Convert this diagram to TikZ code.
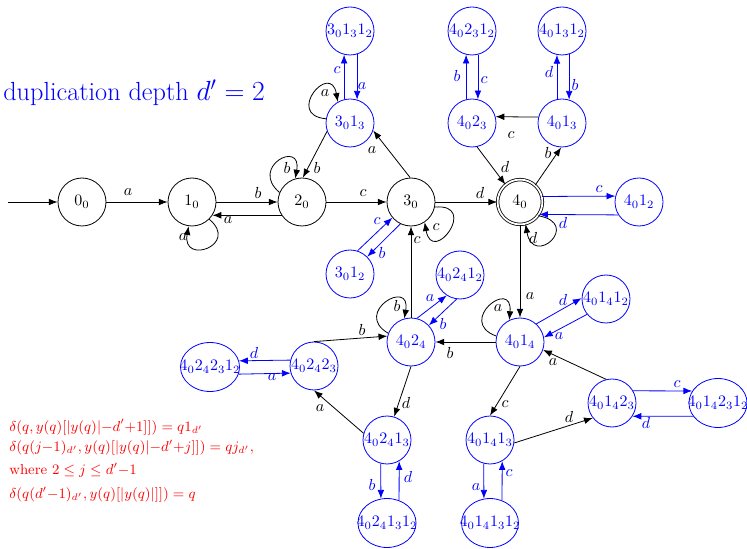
\documentclass[tikz,border=0pt]{standalone}
\usetikzlibrary{arrows.meta,shapes.geometric}
\begin{document}
\begin{tikzpicture}[x=0.625pt,y=-0.625pt,
  st/.style={circle,draw,minimum size=30pt,inner sep=0pt,line width=0.5pt},
  bst/.style={st,blue},
  bel/.style={ellipse,draw,blue,minimum height=30.6pt,inner sep=0pt,line width=0.5pt},
  acc/.style={circle,draw,double,double distance=1.1pt,minimum size=28pt,inner sep=0pt,line width=0.5pt},
  ar/.style={-{Latex[length=5.5pt,width=4.2pt]},line width=0.5pt},
  bar/.style={ar,blue},
  lb/.style={inner sep=0pt}]
\useasboundingbox (0,0) rectangle (747,549);
% black states
\node[st] (n00) at (82,202) {$0_0$};
\node[st] (n10) at (192,202) {$1_0$};
\node[st] (n20) at (302,202) {$2_0$};
\node[st] (n30) at (411,202) {$3_0$};
\node[acc] (n40) at (520,202) {$4_0$};
% blue states
\node[bst] (a312) at (350,31) {$3_01_31_2$};
\node[bst] (a31) at (350,123) {$3_01_3$};
\node[bst] (a3b) at (350,274) {$3_01_2$};
\node[bst] (b4231) at (472,31) {$4_02_31_2$};
\node[bst] (b423) at (472,123) {$4_02_3$};
\node[bst] (c4131) at (562,31) {$4_01_31_2$};
\node[bst] (c413) at (562,123) {$4_01_3$};
\node[bst] (d412) at (639,202) {$4_01_2$};
\node[bst] (e4241) at (460,275) {$4_02_41_2$};
\node[bst] (e424) at (411,342) {$4_02_4$};
\node[bst] (f414) at (520,342) {$4_01_4$};
\node[bst] (f4141) at (606,299) {$4_01_41_2$};
\node[bst] (g41423) at (612,403) {$4_01_42_3$};
\node[bel,minimum width=36.3pt] (g414231) at (718,403) {\makebox[10pt]{$4_01_42_31_2$}};
\node[bst] (h41413) at (490,440) {$4_01_41_3$};
\node[bel,minimum width=35.6pt] (h414131) at (490,523) {\makebox[10pt]{$4_01_41_31_2$}};
\node[bst] (i42413) at (387,440) {$4_02_41_3$};
\node[bel,minimum width=36.3pt] (i424131) at (387,523) {\makebox[10pt]{$4_02_41_31_2$}};
\node[bst] (j42423) at (314,366) {$4_02_42_3$};
\node[bel,minimum width=36.9pt] (j424231) at (210,367) {\makebox[10pt]{$4_02_42_31_2$}};
% texts
\node[blue,font=\fontsize{16.4}{19}\selectfont,anchor=base west,inner sep=0pt] (title) at (3,101) {duplication depth $d'=2$};
\node[red,font=\small,anchor=base west,inner sep=0pt] (r1) at (9,431) {$\delta(q,y(q)[|y(q)|{-}d'{+}1]])=q1_{d'}$};
\node[red,font=\small,anchor=base west,inner sep=0pt] (r2) at (9,451.5) {$\delta(q(j{-}1)_{d'},y(q)[|y(q)|{-}d'{+}j]])=qj_{d'}$,};
\node[red,font=\small,anchor=base west,inner sep=0pt] (r3) at (9,474.5) {where $2\leq j\leq d'{-}1$};
\node[red,font=\small,anchor=base west,inner sep=0pt] (r4) at (9,498.5) {$\delta(q(d'{-}1)_{d'},y(q)[|y(q)|]])=q$};
% black edges
\coordinate (init) at (8,202);
\draw[ar] (init) -- (n00);
\draw[ar] (n00) -- (n10) node[lb,at={(128,192)}] {$a$};
\draw[ar] (n10) -- (n20) node[lb,at={(258,193)}] {$b$};
\draw[ar] (n20.213) -- (n10.327) node[lb,at={(228,220)}] {$a$};
\draw[ar] (n10.-45) .. controls +(-40:25pt) and +(-100:25pt) .. (n10.-98) node[lb,at={(183,237)}] {$a$};
\draw[ar] (n20.157) .. controls +(140:25pt) and +(80:25pt) .. (n20.106) node[lb,at={(287,168)}] {$b$};
\draw[ar] (a31.200) -- (n20.88) node[lb,at={(317,168)}] {$b$};
\draw[ar] (a31.170) .. controls +(175:26pt) and +(100:26pt) .. (a31.120) node[lb,at={(325,93)}] {$a$};
\draw[ar] (n30.92) -- (a31.342) node[lb,at={(372,150)}] {$a$};
\draw[ar] (n20) -- (n30) node[lb,at={(363,193)}] {$c$};
\draw[ar] (n30) -- (n40) node[lb,at={(480,193)}] {$d$};
\draw[ar] (n30.-12) .. controls +(5:28pt) and +(-80:28pt) .. (n30.-56) node[lb,at={(436,227)}] {$c$};
\draw[ar] (e424) -- (n30) node[lb,at={(417,240)}] {$c$};
\draw[ar] (b423.-78) -- (n40.130) node[lb,at={(505,167)}] {$d$};
\draw[ar] (n40.48) -- (c413.268) node[lb,at={(548,153)}] {$b$};
\draw[ar] (c413.166) -- (b423.15) node[lb,at={(511,135)}] {$c$};
\draw[ar] (n40.-37) .. controls +(-10:28pt) and +(-80:28pt) .. (n40.-76) node[lb,at={(533,238)}] {$d$};
\draw[ar] (n40) -- (f414) node[lb,at={(530,296)}] {$a$};
\draw[ar] (e424.159) .. controls +(150:26pt) and +(80:26pt) .. (e424.106) node[lb,at={(397,306)}] {$b$};
\draw[ar] (j42423.north) -- (e424.166) node[lb,at={(362,330)}] {$b$};
\draw[ar] (f414) -- (e424) node[lb,at={(450,353)}] {$b$};
\draw[ar] (f414.166) .. controls +(160:27pt) and +(85:27pt) .. (f414.116) node[lb,at={(498,308)}] {$a$};
\draw[ar] (e424.south) -- (i42413.73) node[lb,at={(406,403)}] {$d$};
\draw[ar] (i42413.164) -- (j42423.south) node[lb,at={(320,408)}] {$a$};
\draw[ar] (f414.south) -- (h41413.north) node[lb,at={(505,404)}] {$c$};
\draw[ar] (h41413.-7) -- (g41423.218) node[lb,at={(569,417)}] {$d$};
\draw[ar] (g41423.104) -- (f414.-19) node[lb,at={(553,362)}] {$a$};
% blue edges
\draw[bar] (a31.104) -- (a312.256) node[lb,at={(337,70)}] {$c$};
\draw[bar] (a312.287) -- (a31.73) node[lb,at={(362,86)}] {$a$};
\draw[bar] (b423.104) -- (b4231.256) node[lb,at={(457,76)}] {$b$};
\draw[bar] (b4231.284) -- (b423.76) node[lb,at={(484,80)}] {$c$};
\draw[bar] (c413.102) -- (c4131.258) node[lb,at={(549,72)}] {$d$};
\draw[bar] (c4131.287) -- (c413.73) node[lb,at={(575,85)}] {$b$};
\draw[bar] (n40.14) -- (d412.166) node[lb,at={(599,189)}] {$c$};
\draw[bar] (d412.212) -- (n40.327) node[lb,at={(563,223)}] {$d$};
\draw[bar] (a3b.72) -- (n30.220) node[lb,at={(377,221)}] {$c$};
\draw[bar] (n30.244) -- (a3b.45) node[lb,at={(382,253)}] {$b$};
\draw[bar] (e424.76) -- (e4241.237) node[lb,at={(430,298)}] {$a$};
\draw[bar] (e4241.262) -- (e424.43) node[lb,at={(443,324)}] {$b$};
\draw[bar] (f414.48) -- (f4141.178) node[lb,at={(563,300)}] {$d$};
\draw[bar] (f4141.219) -- (f414.11) node[lb,at={(559,336)}] {$a$};
\draw[bar] (g41423.30) -- (g414231.155) node[lb,at={(677,384)}] {$c$};
\draw[bar] (g414231.208) -- (g41423.327) node[lb,at={(646,423)}] {$d$};
\draw[bar] (h41413.255) -- (h414131.104) node[lb,at={(476,487)}] {$a$};
\draw[bar] (h414131.62) -- (h41413.300) node[lb,at={(509,473)}] {$c$};
\draw[bar] (i42413.255) -- (i424131.104) node[lb,at={(372,485)}] {$b$};
\draw[bar] (i424131.62) -- (i42413.300) node[lb,at={(408,477)}] {$d$};
\draw[bar] (j42423.166) -- (j424231.12) node[lb,at={(254,353)}] {$d$};
\draw[bar] (j424231.346) -- (j42423.197) node[lb,at={(272,377)}] {$a$};
\end{tikzpicture}
\end{document}
